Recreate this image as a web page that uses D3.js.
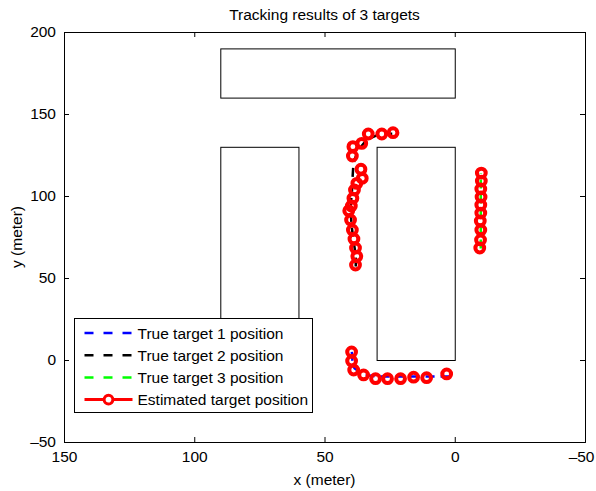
<!DOCTYPE html>
<html>
<head>
<meta charset="utf-8">
<script src="https://cdn.jsdelivr.net/npm/d3@7"></script>
<style>
  html, body { margin: 0; padding: 0; background: #fff; }
  svg { display: block; font-family: "Liberation Sans", Arial, Helvetica, sans-serif; }
</style>
</head>
<body>
<svg id="chart" width="596" height="491"></svg>
<script>
// Axis ranges and tick labels
const xDomain = [150, -50];
const yDomain = [-50, 200];
const xTicks = [150, 100, 50, 0, -50];
const yTicks = [-50, 0, 50, 100, 150, 200];

// Obstacles (buildings): [x1, x2, y1, y2]
const obstacles = [
  [90, 0, 160, 190],
  [90, 60, 0, 130],
  [30, 0, 0, 130]
];

// True trajectories
const true1X = [39.5, 39.3, 38.5, 35, 30, 25, 20, 15, 10, 5, 0];
const true1Y = [5, 0, -5, -9, -10, -10, -10, -10, -10, -10, -10];
const true2X = [38, 38, 38.3, 38.8, 39.2, 39.6, 39.8, 40, 39.8, 39.5, 39.3, 39.2, 39, 38.5, 37, 34, 30, 27, 24];
const true2Y = [57, 62, 67, 72, 77, 82, 87, 92, 97, 102, 107, 112, 117, 122, 128, 134, 137, 138, 138];
const true3X = [-10, -10, -10, -10, -10, -10, -10, -10, -10, -10];
const true3Y = [68, 73, 79, 85, 90, 95, 100, 105, 110, 114];

// Estimated positions
const est1X = [39.6, 39.6, 38.8, 35.0, 30.4, 25.8, 20.8, 15.8, 10.8, 3.1];
const est1Y = [4.9, -0.6, -6.1, -9.1, -11.4, -11.4, -11.4, -10.5, -10.8, -8.5];
const est2X = [38.1, 37.6, 38.1, 38.7, 39.3, 40.0, 40.7, 39.7, 39.1, 38.5, 37.6, 35.5, 36.0, 39.3, 39.1, 35.7, 33.2, 28.0, 23.7];
const est2Y = [57.9, 63.2, 68.3, 73.8, 79.3, 85.4, 91.0, 93.9, 98.6, 103.7, 107.7, 110.8, 116.3, 124.4, 130.1, 132.1, 137.8, 137.8, 138.6];
const est3X = [-10.2, -10.2, -10.0, -10.1, -10.0, -10.0, -9.8, -10.0, -9.9, -9.6];
const est3Y = [114.0, 109.1, 104.3, 99.4, 94.5, 89.6, 84.8, 79.3, 73.2, 68.3];

const legendLabels = ["True target 1 position", "True target 2 position", "True target 3 position", "Estimated target position"];
const trueColors = ["#0000ff", "#000000", "#00ff00"];
const estColor = "#ff0000";

const svg = d3.select("#chart");
const margin = { left: 64, right: 11, top: 32, bottom: 49 };
const W = 596, H = 491;

const x = d3.scaleLinear().domain(xDomain).range([margin.left, W - margin.right]);
const y = d3.scaleLinear().domain(yDomain).range([H - margin.bottom, margin.top]);

const fontSize = 15.5;
const legendFont = 15.5;
const fmt = d => d < 0 ? "\u2013" + Math.abs(d) : d;

// Obstacles
svg.append("g").selectAll("rect").data(obstacles).join("rect")
  .attr("x", d => Math.min(x(d[0]), x(d[1])) + 0.5)
  .attr("y", d => y(d[3]) + 0.5)
  .attr("width", d => Math.abs(x(d[1]) - x(d[0])))
  .attr("height", d => y(d[2]) - y(d[3]))
  .attr("fill", "none")
  .attr("stroke", "#000")
  .attr("stroke-width", 1);

// True trajectories (dashed)
const line = d3.line().x(d => x(d[0])).y(d => y(d[1]));
const trueTracks = [
  d3.zip(true1X, true1Y),
  d3.zip(true2X, true2Y),
  d3.zip(true3X, true3Y)
];
svg.append("g").selectAll("path").data(trueTracks).join("path")
  .attr("d", line)
  .attr("fill", "none")
  .attr("stroke", (d, i) => trueColors[i])
  .attr("stroke-width", 2.5)
  .attr("stroke-dasharray", "9,6");

// Estimated positions (circle markers)
const estPoints = [].concat(d3.zip(est1X, est1Y), d3.zip(est2X, est2Y), d3.zip(est3X, est3Y));
svg.append("g").selectAll("circle").data(estPoints).join("circle")
  .attr("cx", d => x(d[0]))
  .attr("cy", d => y(d[1]))
  .attr("r", 4.4)
  .attr("fill", "none")
  .attr("stroke", estColor)
  .attr("stroke-width", 4);

// Axes with inward ticks, boxed
const xAxisB = d3.axisBottom(x).tickValues(xTicks).tickSize(-5).tickPadding(9).tickFormat(fmt);
const xAxisT = d3.axisTop(x).tickValues(xTicks).tickSize(-5).tickFormat("");
const yAxisL = d3.axisLeft(y).tickValues(yTicks).tickSize(-5).tickPadding(8).tickFormat(fmt);
const yAxisR = d3.axisRight(y).tickValues(yTicks).tickSize(-5).tickFormat("");

function styleAxis(g) {
  g.select(".domain").attr("stroke", "#000");
  g.selectAll(".tick line").attr("stroke", "#000");
  g.selectAll("text").attr("fill", "#000").style("font-size", fontSize + "px")
    .style("font-family", "'Liberation Sans', Arial, Helvetica, sans-serif");
}
const gxB = svg.append("g").attr("transform", `translate(0,${H - margin.bottom})`).call(xAxisB).call(styleAxis);
// keep the rightmost tick label inside the figure
gxB.selectAll(".tick text").filter(d => d === xDomain[1])
  .attr("text-anchor", "end").attr("x", 9);
svg.append("g").attr("transform", `translate(0,${margin.top})`).call(xAxisT).call(styleAxis);
svg.append("g").attr("transform", `translate(${margin.left},0)`).call(yAxisL).call(styleAxis);
svg.append("g").attr("transform", `translate(${W - margin.right},0)`).call(yAxisR).call(styleAxis);

// Title and axis labels
svg.append("text").attr("x", (margin.left + W - margin.right) / 2).attr("y", 20)
  .attr("text-anchor", "middle").style("font-size", fontSize + "px").text("Tracking results of 3 targets");
svg.append("text").attr("x", (margin.left + W - margin.right) / 2).attr("y", 485)
  .attr("text-anchor", "middle").style("font-size", fontSize + "px").text("x (meter)");
svg.append("text").attr("transform", `translate(22,${(margin.top + H - margin.bottom) / 2}) rotate(-90)`)
  .attr("text-anchor", "middle").style("font-size", fontSize + "px").text("y (meter)");

// Legend
const lg = svg.append("g").attr("transform", "translate(74.5,318.5)");
lg.append("rect").attr("width", 238).attr("height", 94)
  .attr("fill", "#fff").attr("stroke", "#000").attr("stroke-width", 1);
const rowY = i => 14.5 + i * 22.2;
legendLabels.forEach((lab, i) => {
  const row = lg.append("g").attr("transform", `translate(0,${rowY(i)})`);
  if (i < 3) {
    row.append("line").attr("x1", 10).attr("x2", 58).attr("y1", 0).attr("y2", 0)
      .attr("stroke", trueColors[i]).attr("stroke-width", 2.5).attr("stroke-dasharray", "9,10");
  } else {
    row.append("line").attr("x1", 10).attr("x2", 58).attr("y1", 0).attr("y2", 0)
      .attr("stroke", estColor).attr("stroke-width", 3);
    row.append("circle").attr("cx", 34).attr("cy", 0).attr("r", 4.4)
      .attr("fill", "#fff").attr("stroke", estColor).attr("stroke-width", 3);
  }
  row.append("text").attr("x", 63).attr("y", 0).attr("dy", "0.36em")
    .style("font-size", legendFont + "px").text(lab);
});
</script>
</body>
</html>
